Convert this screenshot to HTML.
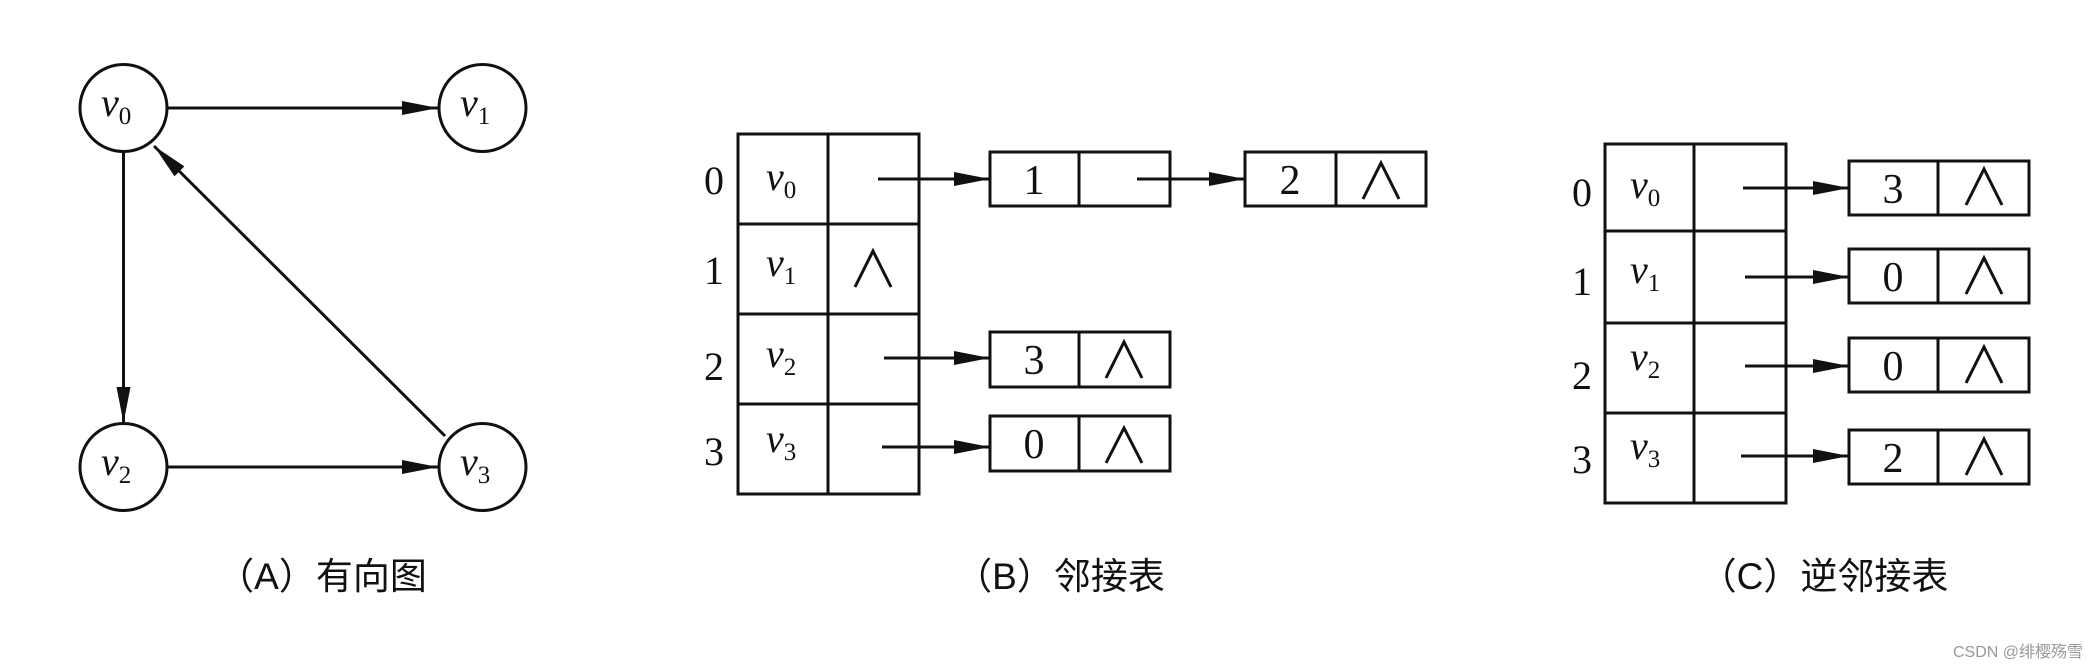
<!DOCTYPE html>
<html><head><meta charset="utf-8"><style>
html,body{margin:0;padding:0;background:#fff;}
svg{display:block;}
.s{font-family:"Liberation Serif",serif;fill:#111;}
.c{font-family:"Liberation Sans","Noto Sans CJK SC",sans-serif;fill:#111;}
</style></head><body>
<svg width="2098" height="668" viewBox="0 0 2098 668" xmlns="http://www.w3.org/2000/svg">
<defs>
<marker id="ah" markerWidth="36" markerHeight="14" refX="36" refY="7" orient="auto" markerUnits="userSpaceOnUse">
<path d="M0,0 L36,7 L0,14 Z" fill="#111"/>
</marker>
</defs>
<g stroke="#111" stroke-width="3" fill="none">
<!-- Graph A -->
<circle cx="123.5" cy="108" r="43.5"/>
<circle cx="482.5" cy="108" r="43.5"/>
<circle cx="123.5" cy="467" r="43.5"/>
<circle cx="482.5" cy="467" r="43.5"/>
<line x1="168" y1="108" x2="438" y2="108" marker-end="url(#ah)"/>
<line x1="123.5" y1="152" x2="123.5" y2="423" marker-end="url(#ah)"/>
<line x1="168" y1="467" x2="438" y2="467" marker-end="url(#ah)"/>
<line x1="445" y1="436" x2="154" y2="146" marker-end="url(#ah)"/>
<!-- Table B -->
<rect x="738" y="134" width="181" height="360"/>
<line x1="828" y1="134" x2="828" y2="494"/>
<line x1="738" y1="224" x2="919" y2="224"/>
<line x1="738" y1="314" x2="919" y2="314"/>
<line x1="738" y1="404" x2="919" y2="404"/>
<!-- B nodes -->
<rect x="990" y="152" width="180" height="54"/><line x1="1079" y1="152" x2="1079" y2="206"/>
<rect x="1245" y="152" width="181" height="54"/><line x1="1336" y1="152" x2="1336" y2="206"/>
<rect x="990" y="332" width="180" height="55"/><line x1="1079" y1="332" x2="1079" y2="387"/>
<rect x="990" y="416" width="180" height="55"/><line x1="1079" y1="416" x2="1079" y2="471"/>
<line x1="878" y1="179" x2="990" y2="179" marker-end="url(#ah)"/>
<line x1="1137" y1="179" x2="1245" y2="179" marker-end="url(#ah)"/>
<line x1="884" y1="358" x2="990" y2="358" marker-end="url(#ah)"/>
<line x1="882" y1="447" x2="990" y2="447" marker-end="url(#ah)"/>
<!-- B nulls -->
<polyline points="1363,199 1381,163 1399,199"/>
<polyline points="855,287 873,251 891,287"/>
<polyline points="1106,378 1124,342 1142,378"/>
<polyline points="1106,463 1124,428 1142,463"/>
<!-- Table C -->
<rect x="1605" y="144" width="181" height="359"/>
<line x1="1694" y1="144" x2="1694" y2="503"/>
<line x1="1605" y1="231" x2="1786" y2="231"/>
<line x1="1605" y1="323" x2="1786" y2="323"/>
<line x1="1605" y1="413" x2="1786" y2="413"/>
<rect x="1849" y="161" width="180" height="54"/><line x1="1938" y1="161" x2="1938" y2="215"/>
<rect x="1849" y="249" width="180" height="54"/><line x1="1938" y1="249" x2="1938" y2="303"/>
<rect x="1849" y="338" width="180" height="54"/><line x1="1938" y1="338" x2="1938" y2="392"/>
<rect x="1849" y="430" width="180" height="54"/><line x1="1938" y1="430" x2="1938" y2="484"/>
<line x1="1743" y1="188" x2="1849" y2="188" marker-end="url(#ah)"/>
<line x1="1745" y1="277" x2="1849" y2="277" marker-end="url(#ah)"/>
<line x1="1745" y1="366" x2="1849" y2="366" marker-end="url(#ah)"/>
<line x1="1741" y1="456" x2="1849" y2="456" marker-end="url(#ah)"/>
<polyline points="1966,205 1984,169 2002,205"/>
<polyline points="1966,294 1984,258 2002,294"/>
<polyline points="1966,383 1984,347 2002,383"/>
<polyline points="1966,475 1984,439 2002,475"/>
</g>
<!-- vertex labels graph -->
<g class="s" font-size="40" font-style="italic">
<text x="101" y="116">v<tspan font-style="normal" font-size="25" dy="8">0</tspan></text>
<text x="460" y="116">v<tspan font-style="normal" font-size="25" dy="8">1</tspan></text>
<text x="101" y="475">v<tspan font-style="normal" font-size="25" dy="8">2</tspan></text>
<text x="460" y="475">v<tspan font-style="normal" font-size="25" dy="8">3</tspan></text>
<text x="766" y="190">v<tspan font-style="normal" font-size="25" dy="8">0</tspan></text>
<text x="766" y="276">v<tspan font-style="normal" font-size="25" dy="8">1</tspan></text>
<text x="766" y="367">v<tspan font-style="normal" font-size="25" dy="8">2</tspan></text>
<text x="766" y="452">v<tspan font-style="normal" font-size="25" dy="8">3</tspan></text>
<text x="1630" y="198">v<tspan font-style="normal" font-size="25" dy="8">0</tspan></text>
<text x="1630" y="283">v<tspan font-style="normal" font-size="25" dy="8">1</tspan></text>
<text x="1630" y="370">v<tspan font-style="normal" font-size="25" dy="8">2</tspan></text>
<text x="1630" y="459">v<tspan font-style="normal" font-size="25" dy="8">3</tspan></text>
</g>
<g class="s" font-size="40" text-anchor="middle">
<text x="714" y="194">0</text>
<text x="714" y="284">1</text>
<text x="714" y="380">2</text>
<text x="714" y="465">3</text>
<text x="1582" y="206">0</text>
<text x="1582" y="295">1</text>
<text x="1582" y="389">2</text>
<text x="1582" y="473">3</text>
</g>
<g class="s" font-size="42" text-anchor="middle">
<text x="1034" y="194">1</text>
<text x="1290" y="194">2</text>
<text x="1034" y="374">3</text>
<text x="1034" y="458">0</text>
<text x="1893" y="203">3</text>
<text x="1893" y="291">0</text>
<text x="1893" y="380">0</text>
<text x="1893" y="472">2</text>
</g>
<g class="c" font-size="37" text-anchor="middle">
<text x="322" y="589">（A）有向图</text>
<text x="1060" y="589">（B）邻接表</text>
<text x="1824" y="589">（C）逆邻接表</text>
</g>
<text x="2083" y="657" text-anchor="end" font-size="16" fill="#999" font-family="Liberation Sans,'Noto Sans CJK SC',sans-serif">CSDN @绯樱殇雪</text>
</svg>
</body></html>
